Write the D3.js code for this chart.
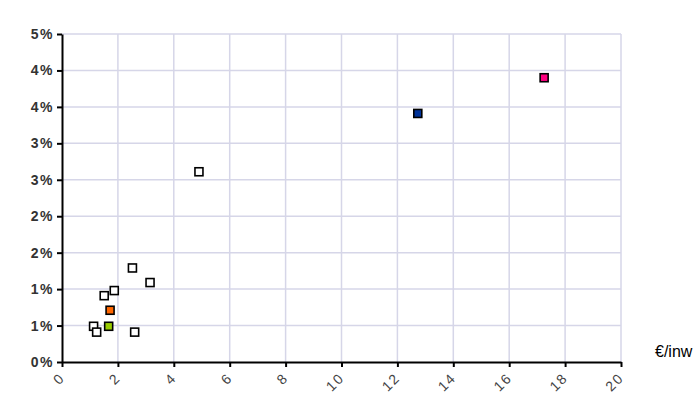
<!DOCTYPE html>
<html><head><meta charset="utf-8">
<script src="https://cdn.jsdelivr.net/npm/d3@7"></script>
<style>
body{margin:0;background:#fff;}
svg text{font-family:Arial,"Liberation Sans",sans-serif;}
</style></head>
<body><svg id="c" width="700" height="395"></svg>
<script>
const xValues = [2.52, 3.15, 1.51, 1.87, 1.72, 1.13, 1.24, 1.67, 2.60, 4.90, 12.73, 17.25];
const yValues = [1.29, 1.09, 0.91, 0.98, 0.71, 0.49, 0.41, 0.49, 0.41, 2.61, 3.41, 3.90];
const pointFills = ["#ffffff","#ffffff","#ffffff","#ffffff","#ff6600","#ffffff","#ffffff","#99cc00","#ffffff","#ffffff","#003399","#ff0080"];
const xTicks = [0,2,4,6,8,10,12,14,16,18,20];
const yTicks = [0,0.5,1,1.5,2,2.5,3,3.5,4,4.5];
const xUnit = "€/inw";

const svg = d3.select("#c");
const x = d3.scaleLinear().domain([0,20]).range([62,621]);
const y = d3.scaleLinear().domain([0,4.5]).range([362,34]);
const grid = "#d6d6e8";

svg.append("g").selectAll("line").data(yTicks.slice(1)).join("line")
  .attr("x1",62).attr("x2",621).attr("y1",d=>y(d)).attr("y2",d=>y(d))
  .attr("stroke",grid).attr("stroke-width",1.5);
svg.append("g").selectAll("line").data(xTicks.slice(1)).join("line")
  .attr("y1",34).attr("y2",362).attr("x1",d=>x(d)).attr("x2",d=>x(d))
  .attr("stroke",grid).attr("stroke-width",1.5);

const yAxis = d3.axisLeft(y).tickValues(yTicks).tickSize(5).tickSizeOuter(0)
  .tickFormat(d=>Math.round(d)+"%");
const gy = svg.append("g").attr("transform","translate(62,0)").call(yAxis);
gy.select(".domain").attr("stroke","#000").attr("stroke-width",2);
gy.selectAll(".tick line").attr("stroke","#000").attr("stroke-width",2);
gy.selectAll(".tick text").attr("x",-8).attr("font-size",14).attr("fill","#333")
  .attr("font-weight","bold").attr("letter-spacing","1.5px").attr("font-family","Arial");

const xAxis = d3.axisBottom(x).tickValues(xTicks).tickSize(5).tickSizeOuter(0);
const gx = svg.append("g").attr("transform","translate(0,362)").call(xAxis);
gx.select(".domain").attr("stroke","#000").attr("stroke-width",2);
gx.selectAll(".tick line").attr("stroke","#000").attr("stroke-width",2);
gx.selectAll(".tick text")
  .attr("font-size",14).attr("fill","#444").attr("letter-spacing","1.5px")
  .attr("font-family","Arial")
  .attr("text-anchor","end").attr("dy",0).attr("y",0)
  .attr("transform","translate(3,17) rotate(-45)");

svg.append("g").selectAll("rect").data(xValues.map((v,i)=>({x:v,y:yValues[i],f:pointFills[i]}))).join("rect")
  .attr("x",d=>x(d.x)-4).attr("y",d=>y(d.y)-4).attr("width",8).attr("height",8)
  .attr("fill",d=>d.f).attr("stroke","#000").attr("stroke-width",1.6);

svg.append("text").attr("x",655).attr("y",357).attr("font-size",16).attr("fill","#000").text(xUnit);
</script></body></html>
